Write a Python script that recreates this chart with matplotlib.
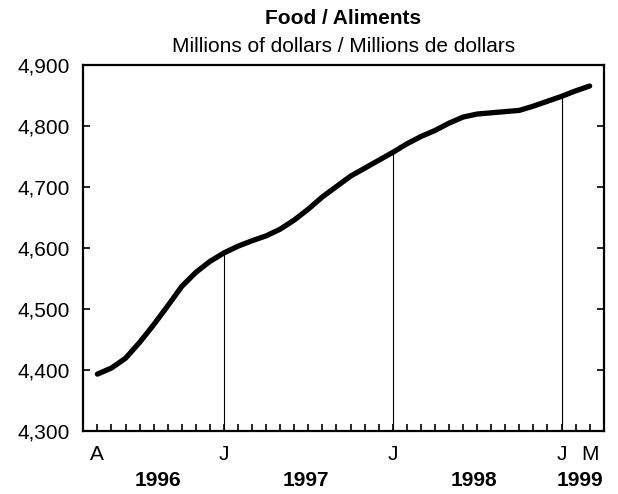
import numpy as np
import matplotlib
matplotlib.use('Agg')
import matplotlib.pyplot as plt

plt.rcParams['font.family'] = ['Liberation Sans', 'DejaVu Sans']

# monthly values, April 1996 to March 1999
months = ['A', 'M', 'J', 'J', 'A', 'S', 'O', 'N', 'D',
          'J', 'F', 'M', 'A', 'M', 'J', 'J', 'A', 'S', 'O', 'N', 'D',
          'J', 'F', 'M', 'A', 'M', 'J', 'J', 'A', 'S', 'O', 'N', 'D',
          'J', 'F', 'M']
food = [4393, 4403, 4419, 4445, 4474, 4505, 4537, 4560, 4578,
        4592, 4603, 4612, 4620, 4631, 4646, 4664, 4684, 4701, 4718, 4731, 4744,
        4757, 4771, 4783, 4793, 4805, 4815, 4820, 4822, 4824, 4826, 4833, 4841,
        4849, 4858, 4866]
years = ['1996', '1997', '1998', '1999']
year_start = [0, 9, 21, 33]
year_end = [8, 20, 32, 35]
labelled = [0, 9, 21, 33, 35]
jan_lines = [9, 21, 33]

FS = 15

fig = plt.figure(figsize=(6.18, 4.94), dpi=100)
ax = fig.add_axes([0.1348, 0.128, 0.8421, 0.7398])

x = np.arange(len(food))
ax.plot(x, food, color='black', lw=3.8, solid_capstyle='round',
        solid_joinstyle='round')

for i in jan_lines:
    ax.vlines(i, 4300, food[i], color='black', lw=0.8)

ax.set_xlim(-1, len(food))
ax.set_ylim(4300, 4900)
ax.set_yticks(np.arange(4300, 4901, 100))
ax.set_yticklabels(['{:,}'.format(v) for v in range(4300, 4901, 100)], fontsize=FS)
ax.tick_params(axis='y', direction='in', length=5, width=1.2, pad=10,
               left=True, right=True)

ax.set_xticks(x, minor=True)
ax.set_xticks(labelled)
ax.set_xticklabels([months[i] for i in labelled], fontsize=FS)
ax.tick_params(axis='x', which='both', direction='in', length=5, width=1.2, pad=10)

for s in ax.spines.values():
    s.set_linewidth(1.6)

for name, a, b in zip(years, year_start, year_end):
    ax.annotate(name, xy=((a + b) / 2 + 0.3, 0), xycoords=('data', 'axes fraction'),
                xytext=(0, -36), textcoords='offset points',
                ha='center', va='center', fontsize=FS, fontweight='bold')

fig.text(0.5557, 0.951, 'Food / Aliments', ha='center', va='baseline',
         fontsize=FS, fontweight='bold')
fig.text(0.5557, 0.895, 'Millions of dollars / Millions de dollars', ha='center',
         va='baseline', fontsize=FS)

fig.savefig('out.png', dpi=100)
